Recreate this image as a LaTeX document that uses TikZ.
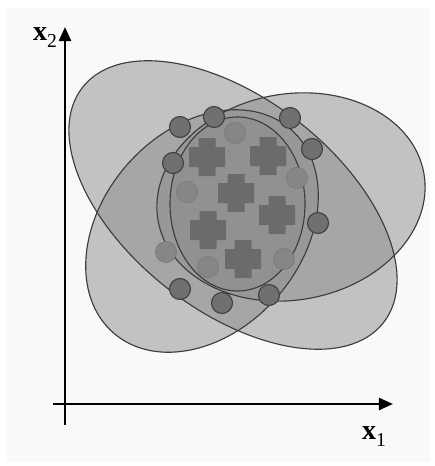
\documentclass[tikz,border=0pt]{standalone}
\usepackage{fontspec}
\setmainfont{Liberation Serif}
\usetikzlibrary{arrows.meta}
\definecolor{bgc}{RGB}{249,249,249}
\definecolor{lobe}{RGB}{140,140,140}
\definecolor{edgec}{RGB}{60,60,60}
\definecolor{crossc}{RGB}{107,107,107}
\definecolor{svfill}{RGB}{112,112,112}
\definecolor{svedge}{RGB}{64,64,64}
\definecolor{inpfill}{RGB}{134,134,134}
\definecolor{inpedge}{RGB}{122,122,122}
\begin{document}
\begin{tikzpicture}[x=0.025cm,y=-0.025cm,
  regionfill/.style={fill=lobe,fill opacity=0.5},
  regionedge/.style={draw=edgec,line width=0.8pt},
  sv/.style={circle,inner sep=0pt,minimum size=0.525cm,fill=svfill,draw=svedge,line width=0.8pt},
  inpt/.style={circle,inner sep=0pt,minimum size=0.525cm,fill=inpfill,draw=inpedge,line width=0.5pt},
  axisline/.style={line width=1.8pt,-{Triangle[length=10pt,width=8.5pt]}},
  plussign/.pic={\fill[crossc] (-18,-10) -- (-8.5,-10) -- (-8.5,-19) -- (8.5,-19) -- (8.5,-10) -- (18,-10) -- (18,10) -- (8.5,10) -- (8.5,19) -- (-8.5,19) -- (-8.5,10) -- (-18,10) -- cycle;}
]
\useasboundingbox (0,0) rectangle (434,466);
\fill[white] (0,0) rectangle (434,466);
\fill[bgc] (7,8) rectangle (430,462);

% centres
\coordinate (cA) at (233,205);
\coordinate (cE) at (291,197);
\coordinate (cF) at (202,231);
\coordinate (cD) at (237.5,204);

% fills
\fill[regionfill,rotate around={-38:(cA)}] (cA) ellipse [x radius=191,y radius=106];
\fill[regionfill,rotate around={10.2:(cE)}] (cE) ellipse [x radius=135,y radius=103];
\fill[regionfill,rotate around={49.1:(cF)}] (cF) ellipse [x radius=135,y radius=100];
\fill[regionfill] (cD) ellipse [x radius=67.5,y radius=87];

% outlines
\draw[regionedge,rotate around={-38:(cA)}] (cA) ellipse [x radius=191,y radius=106];
\draw[regionedge,rotate around={10.2:(cE)}] (cE) ellipse [x radius=135,y radius=103];
\draw[regionedge,rotate around={49.1:(cF)}] (cF) ellipse [x radius=135,y radius=100];
\draw[regionedge] (cD) ellipse [x radius=67.5,y radius=87];

% inner points
\node[inpt] (i1) at (235,133) {};
\node[inpt] (i2) at (187,192) {};
\node[inpt] (i3) at (297,178) {};
\node[inpt] (i4) at (166,252) {};
\node[inpt] (i5) at (208,267) {};
\node[inpt] (i6) at (284,259) {};

% crosses
\pic at (207,157) {plussign};
\pic at (268,156) {plussign};
\pic at (236,193) {plussign};
\pic at (277,215) {plussign};
\pic at (208,230) {plussign};
\pic at (243,259) {plussign};

% support points
\node[sv] (s1) at (180,127) {};
\node[sv] (s2) at (214,117) {};
\node[sv] (s3) at (173,163) {};
\node[sv] (s4) at (290,118) {};
\node[sv] (s5) at (312,149) {};
\node[sv] (s6) at (318,223) {};
\node[sv] (s7) at (180,289) {};
\node[sv] (s8) at (222,303) {};
\node[sv] (s9) at (269,295) {};

% axes
\coordinate (ybot) at (65,425);
\coordinate (ytop) at (65,27);
\coordinate (xleft) at (53,404);
\coordinate (xright) at (393,404);
\draw[axisline] (ybot) -- (ytop);
\draw[axisline] (xleft) -- (xright);
\node[inner sep=0pt] (lx2) at (45,38) {\fontsize{20}{20}\selectfont\bfseries x\fontsize{14}{14}\selectfont\mdseries\raisebox{-5pt}{2}};
\node[inner sep=0pt] (lx1) at (374,437) {\fontsize{20}{20}\selectfont\bfseries x\fontsize{14}{14}\selectfont\mdseries\raisebox{-5pt}{1}};
\end{tikzpicture}
\end{document}
